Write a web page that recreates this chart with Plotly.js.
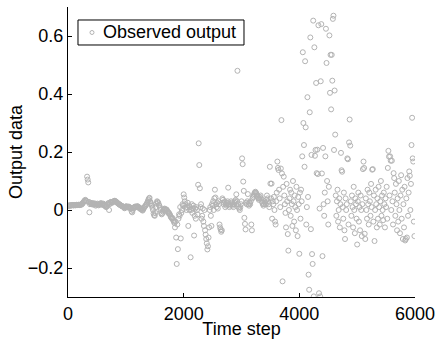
<!DOCTYPE html>
<html>
<head>
<meta charset="utf-8">
<script src="https://cdn.plot.ly/plotly-3.0.1.min.js"></script>
<style>html,body{margin:0;padding:0;background:#fff;}#chart{width:437px;height:339px;}</style>
</head>
<body>
<div id="chart"></div>
<script>
// Time step spacing between observations
var timeStep = 10;
var observedOutput = [
  0.014,0.015,0.015,0.016,0.016,0.015,0.016,0.017,0.017,0.016,
  0.016,0.017,0.017,0.016,0.017,0.018,0.017,0.017,0.018,0.018,
  0.017,0.018,0.019,0.018,0.02,0.022,0.025,0.028,0.03,0.033,
  0.035,0.032,0.03,0.115,0.105,0.095,0.028,-0.008,0.02,0.025,
  0.022,0.02,0.024,0.022,0.018,0.02,0.023,0.02,0.015,0.018,
  0.02,0.022,0.018,0.016,0.02,0.019,0.021,0.024,0.02,0.018,
  0.02,0.022,0.018,0.016,0.015,0.012,0.01,0.013,0.018,0.022,
  0.024,0.0,0.02,0.025,0.028,0.027,0.025,0.026,0.029,0.03,
  0.031,0.032,0.03,0.029,0.027,0.025,0.024,0.022,0.02,0.019,
  0.018,0.016,0.015,0.014,0.013,0.012,0.01,0.008,0.006,0.01,
  0.012,0.013,0.011,0.009,0.01,0.012,0.01,0.008,0.005,0.004,
  -0.005,-0.008,0.0,0.005,0.008,0.01,0.012,0.011,0.01,0.012,
  0.013,0.012,0.01,0.008,0.005,0.004,0.006,0.003,0.0,-0.002,
  0.002,0.006,0.01,0.012,0.015,0.018,0.02,0.025,0.03,0.035,
  0.04,0.042,0.03,0.025,0.02,0.015,0.008,0.0,-0.012,-0.018,
  -0.02,-0.01,0.01,0.022,0.03,0.028,0.025,0.018,0.015,0.008,
  0.0,-0.01,-0.015,-0.012,-0.005,0.0,0.003,0.005,0.002,0.0,
  0.002,0.0,-0.005,-0.01,-0.008,-0.012,-0.015,-0.02,-0.025,-0.027,
  -0.03,-0.028,-0.035,-0.04,-0.045,-0.06,-0.04,-0.095,-0.186,-0.05,
  -0.135,-0.03,-0.015,-0.02,0.01,-0.098,-0.01,0.0,0.02,0.015,
  0.054,0.043,0.03,0.02,0.008,0.0,0.01,0.025,-0.055,0.015,
  0.0,0.01,-0.163,0.0,0.02,-0.01,0.005,0.015,-0.088,-0.02,
  0.005,-0.03,0.01,0.0,-0.015,0.087,0.23,0.155,0.075,0.01,
  0.02,-0.03,-0.02,0.005,-0.04,-0.055,0.0,-0.07,-0.085,-0.1,
  -0.115,-0.136,-0.125,-0.095,-0.06,0.0,0.01,-0.02,-0.055,0.02,
  0.015,0.03,0.0,0.04,0.07,0.043,0.02,0.01,0.025,0.005,
  0.03,0.02,-0.05,-0.06,-0.067,-0.075,-0.07,0.04,0.035,0.02,
  0.025,0.03,0.01,0.02,0.015,0.025,0.03,0.077,0.02,0.01,
  0.015,0.02,0.03,0.025,0.02,0.015,0.01,0.02,0.025,0.03,
  0.035,0.054,0.03,0.48,0.02,0.01,0.005,0.0,0.01,0.02,
  0.03,0.178,0.158,0.098,0.066,-0.027,-0.048,-0.067,0.025,0.02,
  0.03,0.055,0.02,0.015,0.025,0.02,0.03,-0.05,-0.07,0.04,
  0.045,0.05,0.055,0.06,0.063,0.06,0.055,0.05,0.045,0.04,
  0.035,0.04,0.045,0.05,0.04,0.03,0.025,0.02,0.015,0.02,
  0.03,0.025,0.02,0.035,0.05,0.04,0.03,0.02,0.01,0.149,
  0.091,0.04,0.091,-0.03,0.03,0.02,0.045,0.0,-0.04,-0.05,
  0.03,0.06,0.167,0.145,0.138,0.07,0.04,0.01,0.143,0.31,
  0.126,-0.246,0.08,0.115,0.05,0.02,-0.01,-0.06,0.09,0.03,
  -0.083,-0.14,0.0,0.04,0.07,-0.02,0.06,0.02,-0.055,0.1,
  0.03,-0.04,0.05,0.01,-0.07,0.08,0.0,-0.09,0.045,0.02,
  -0.151,0.06,-0.03,0.07,0.03,0.185,0.544,0.3,0.224,0.149,
  0.513,0.285,-0.05,0.01,0.389,0.045,-0.223,-0.275,0.337,0.595,
  -0.066,0.19,-0.152,-0.186,0.653,-0.298,0.561,0.187,0.207,0.438,
  0.127,0.208,0.124,0.637,-0.287,0.005,-0.298,0.444,0.641,0.126,
  -0.159,0.214,0.02,-0.02,0.06,0.185,0.625,0.507,0.1,0.03,
  -0.05,0.08,0.602,0.404,0.535,0.347,0.535,0.446,0.659,0.67,
  0.207,0.412,0.26,0.05,-0.02,0.03,0.07,-0.04,0.0,0.04,
  -0.06,0.02,0.197,0.137,0.132,0.01,-0.03,0.06,-0.07,-0.1,
  0.04,0.0,0.02,0.178,0.175,-0.05,0.233,0.312,0.222,0.03,
  -0.02,0.05,0.01,-0.06,0.08,0.0,-0.08,0.04,0.02,-0.03,
  -0.119,0.03,0.06,-0.04,0.01,-0.07,0.05,0.0,-0.09,0.02,
  0.141,0.167,0.145,-0.082,-0.1,0.04,0.0,-0.03,0.07,0.02,
  -0.05,0.06,0.03,-0.02,0.09,0.01,0.139,0.141,-0.04,0.05,
  -0.107,0.0,0.07,0.02,-0.06,0.04,-0.03,0.08,0.01,-0.05,
  0.03,0.1,-0.02,0.05,0.0,-0.035,0.06,0.02,-0.06,0.04,
  0.01,0.08,-0.03,0.145,0.204,0.184,0.05,0.185,0.17,0.0,
  0.17,0.03,-0.05,0.127,0.11,0.06,-0.02,0.09,0.02,-0.07,
  0.04,-0.04,0.1,0.0,-0.08,0.05,0.12,-0.03,0.07,-0.1,
  0.02,-0.06,0.08,-0.105,-0.1,0.04,-0.095,0.11,-0.02,0.06,
  0.133,0.118,0.0,0.09,0.224,0.318,0.178,0.167,-0.04,-0.09
];
var timeSteps = observedOutput.map(function (_, i) { return i * timeStep; });
var seriesName = 'Observed output';
var xTitle = 'Time step';
var yTitle = 'Output data';
var xTicks = [0, 2000, 4000, 6000];
var yTicks = [-0.2, 0, 0.2, 0.4, 0.6];
var yTickText = ['\u22120.2', '0', '0.2', '0.4', '0.6'];

var markerColor = '#b3b3b3';
var font = {family: '"Liberation Sans", Arial, Helvetica, sans-serif', size: 18, color: '#000'};

var trace = {
  x: timeSteps,
  y: observedOutput,
  type: 'scatter',
  mode: 'markers',
  name: seriesName,
  marker: {symbol: 'circle-open', size: 5, color: markerColor, line: {width: 1, color: markerColor}}
};

// Legend box drawn in paper coordinates (MATLAB-style compact legend)
var lgX0 = 0.0288, lgX1 = 0.5072, lgY0 = 0.869, lgY1 = 0.9552;
var lgMidY = (lgY0 + lgY1) / 2;

var layout = {
  width: 437, height: 339,
  margin: {l: 68, r: 22, t: 7, b: 42},
  paper_bgcolor: '#fff', plot_bgcolor: '#fff',
  font: font,
  showlegend: false,
  xaxis: {
    range: [0, 6000], tickvals: xTicks, ticktext: xTicks.map(String),
    ticks: 'inside', ticklen: 4, tickcolor: '#000', tickwidth: 1,
    showline: true, linecolor: '#000', linewidth: 1, mirror: false,
    showgrid: false, zeroline: false, tickfont: font,
    title: {text: xTitle, font: font, standoff: 0}
  },
  yaxis: {
    range: [-0.3, 0.7], tickvals: yTicks, ticktext: yTickText,
    ticks: 'inside', ticklen: 4, tickcolor: '#000', tickwidth: 1,
    showline: true, linecolor: '#000', linewidth: 1, mirror: false,
    showgrid: false, zeroline: false, tickfont: font,
    title: {text: yTitle, font: font, standoff: 0}
  },
  shapes: [
    {type: 'rect', xref: 'paper', yref: 'paper', x0: lgX0, x1: lgX1, y0: lgY0, y1: lgY1,
     line: {color: '#000', width: 1}, fillcolor: '#fff', layer: 'above'},
    {type: 'circle', xref: 'paper', yref: 'paper', xsizemode: 'pixel', ysizemode: 'pixel',
     xanchor: lgX0 + 14 / 347, yanchor: lgMidY, x0: -2, x1: 2, y0: -2, y1: 2,
     line: {color: markerColor, width: 1}, layer: 'above'}
  ],
  annotations: [
    {xref: 'paper', yref: 'paper', x: lgX0 + 23 / 347, y: lgMidY, xanchor: 'left', yanchor: 'middle',
     text: seriesName, showarrow: false, font: font}
  ]
};

Plotly.newPlot('chart', [trace], layout, {displayModeBar: false, staticPlot: true});
</script>
</body>
</html>
